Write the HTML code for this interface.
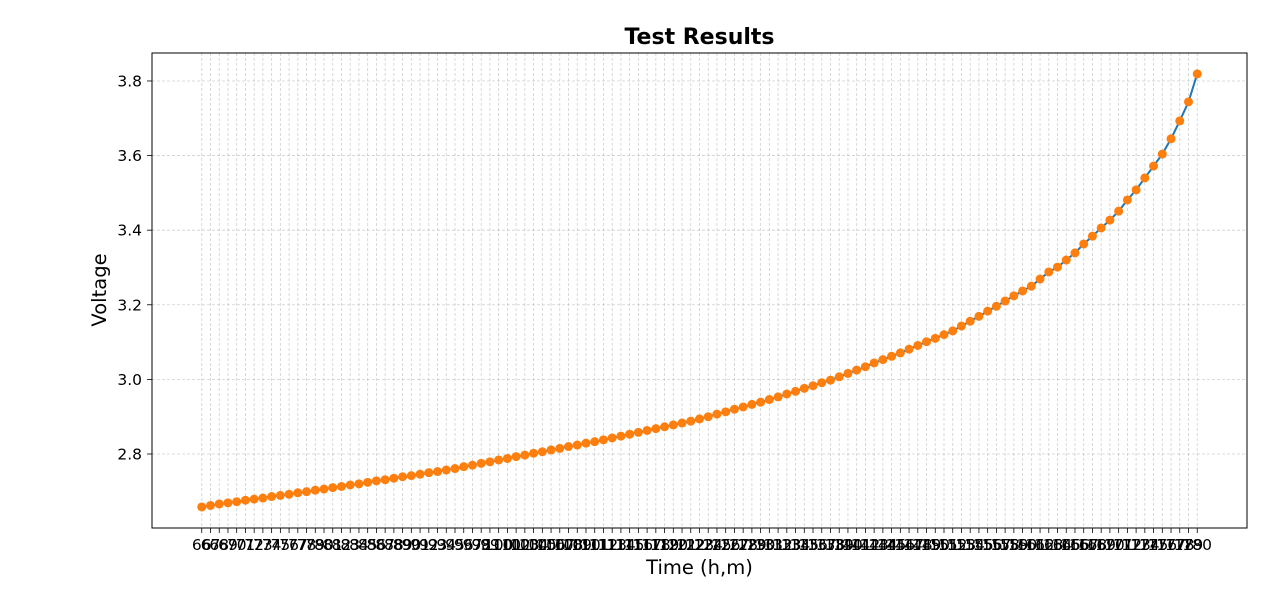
<!DOCTYPE html>
<html><head><meta charset="utf-8"><style>
body{margin:0;background:#fff;}
svg text{font-family:"DejaVu Sans","Liberation Sans",sans-serif;}
</style></head><body>
<svg id="chart" width="1280" height="610" xmlns="http://www.w3.org/2000/svg">
<rect width="1280" height="610" fill="#fff"/>
<text x="699.5" y="44" text-anchor="middle" font-size="22" font-weight="bold">Test Results</text>
<text x="699.5" y="574" text-anchor="middle" font-size="19.5">Time (h,m)</text>
<text transform="translate(106,290) rotate(-90)" text-anchor="middle" font-size="19.5">Voltage</text>
<g id="grid"></g><g id="xticks"></g><g id="yticks"></g><g id="series"></g>
<rect x="152" y="53" width="1095" height="475" fill="none" stroke="#000" stroke-width="1"/>
</svg>
<script>
const voltages=[2.658,2.662,2.666,2.669,2.672,2.676,2.679,2.682,2.686,2.689,2.692,2.696,2.699,2.703,
2.706,2.710,2.713,2.717,2.720,2.724,2.728,2.731,2.735,2.739,2.742,2.746,2.750,2.753,2.757,
2.761,2.766,2.770,2.775,2.779,2.784,2.788,2.793,2.797,
2.802,2.806,2.811,2.815,2.820,2.824,2.829,2.833,2.838,
2.843,2.848,2.853,2.858,2.863,2.868,2.873,2.878,2.883,2.888,
2.894,2.900,2.907,2.913,2.920,2.926,2.933,2.939,
2.946,2.953,2.961,2.968,2.976,2.983,2.991,2.998,
3.007,3.016,3.025,3.034,3.044,3.053,3.062,3.071,
3.081,3.091,3.101,3.110,3.120,3.130,
3.143,3.156,3.169,3.183,3.196,
3.210,3.224,3.237,3.250,3.269,3.288,3.301,3.320,3.339,3.363,3.384,3.406,3.427,3.451,3.481,3.508,3.540,3.572,3.604,3.645,3.693,3.744,3.819];
const timeLabels=voltages.map((v,i)=>String(66+i));
const yTicks=[2.8,3.0,3.2,3.4,3.6,3.8];
const NS="http://www.w3.org/2000/svg";
const L=152,R=1247,T=53,B=528,n=voltages.length;
const pad=(n-1)*0.05;
function xs(i){return L+(i+pad)/(n-1+2*pad)*(R-L);}
const yMin=2.6016,yMax=3.875;
function ys(v){return B-(v-yMin)/(yMax-yMin)*(B-T);}
function mk(tag,attrs,parent){const e=document.createElementNS(NS,tag);for(const k in attrs)e.setAttribute(k,attrs[k]);parent.appendChild(e);return e;}
const grid=document.getElementById('grid'),xt=document.getElementById('xticks'),yt=document.getElementById('yticks'),se=document.getElementById('series');
timeLabels.forEach((lab,i)=>{const x=xs(i);
 const g=mk('line',{x1:x,x2:x,y1:T,y2:B,stroke:'#b0b0b0','stroke-width':0.8,'stroke-dasharray':'3,2','stroke-opacity':0.6},grid);
 
 const t=mk('line',{x1:x,x2:x,y1:B,y2:B+5,stroke:'#000','stroke-width':0.8},xt);
 
 const tx=mk('text',{x:x,y:B+22,'text-anchor':'middle','font-size':15.5},xt);tx.textContent=lab;
 });
yTicks.forEach(v=>{const y=ys(v);
 const g=mk('line',{x1:L,x2:R,y1:y,y2:y,stroke:'#b0b0b0','stroke-width':0.8,'stroke-dasharray':'3,2','stroke-opacity':0.6},grid);
 
 const t=mk('line',{x1:L-5,x2:L,y1:y,y2:y,stroke:'#000','stroke-width':0.8},yt);
 
 const tx=mk('text',{x:L-10,y:y+5.5,'text-anchor':'end','font-size':15.5},yt);tx.textContent=v.toFixed(1);
 });
const line=mk('polyline',{points:voltages.map((v,i)=>xs(i)+','+ys(v)).join(' '),fill:'none',stroke:'#1f77b4','stroke-width':2},se);

voltages.forEach((v,i)=>{const c=mk('circle',{cx:xs(i),cy:ys(v),r:4.5,fill:'#ff7f0e'},se);
 });
</script>
</body></html>
